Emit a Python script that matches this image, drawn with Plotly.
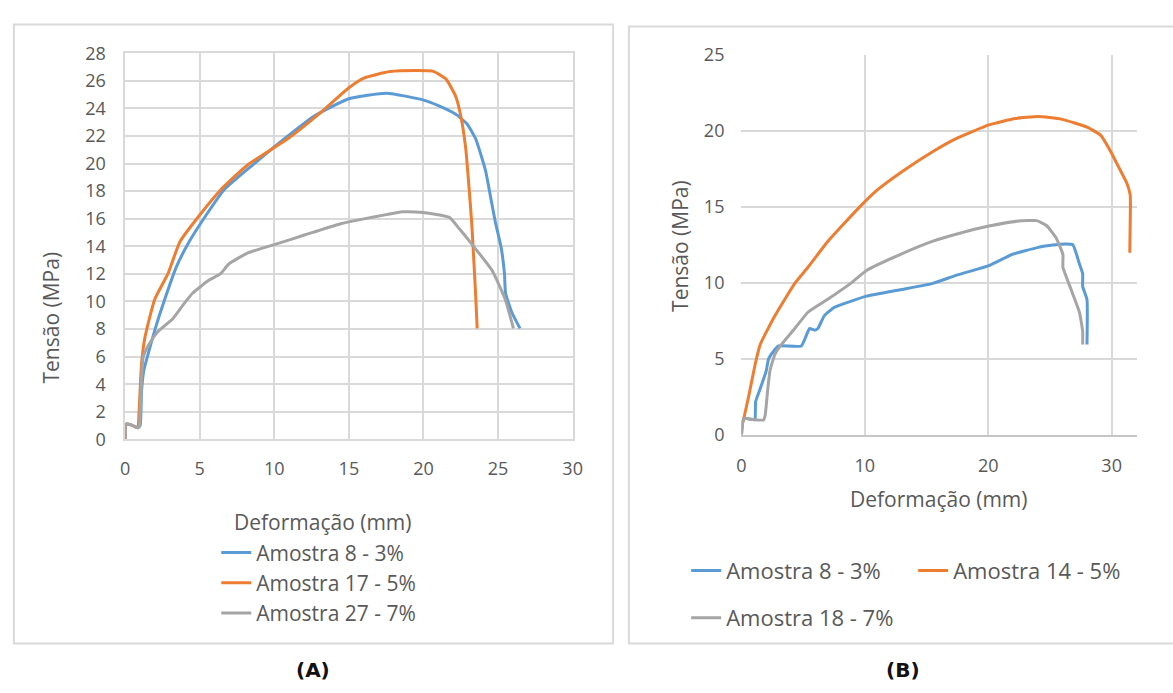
import plotly.graph_objects as go

# ---------------- Panel A data ----------------
a_names = ["Amostra 8 - 3%", "Amostra 17 - 5%", "Amostra 27 - 7%"]
a8_x = [0, 0.05, 0.4, 0.7, 0.85, 1.0, 1.1, 1.25, 1.54, 2.09, 2.65, 3.42, 4.3, 5.4, 6.62, 8.6, 10.7, 12.68,
        15.0, 17.54, 19.96, 21.0, 22.17, 22.9, 23.49, 24.16, 24.49, 24.82, 25.21, 25.43, 25.5, 25.92, 26.47]
a8_y = [0, 1.1, 1.05, 0.9, 0.85, 1.0, 3.5, 5.0, 6.19, 8.29, 10.15, 12.48, 14.35, 16.22, 18.09, 19.95, 21.82, 23.45,
        24.7, 25.1, 24.62, 24.2, 23.57, 22.9, 21.82, 19.49, 17.62, 15.75, 13.89, 12.02, 10.62, 9.22, 8.05]
a17_x = [0, 0.05, 0.4, 0.7, 0.85, 0.9, 1.1, 1.32, 1.98, 2.87, 3.68, 4.96, 6.4, 8.27, 10.92, 13.34, 15.0, 16.0,
         17.76, 19.52, 20.62, 21.5, 22.17, 22.5, 22.83, 23.05, 23.23, 23.34, 23.49, 23.6]
a17_y = [0, 1.1, 1.05, 0.9, 0.85, 1.3, 5.49, 7.35, 10.15, 12.02, 14.35, 16.22, 18.09, 19.95, 21.82, 23.92, 25.5, 26.2,
         26.67, 26.75, 26.7, 26.14, 24.85, 23.45, 21.12, 18.32, 15.75, 13.65, 10.62, 8.05]
a27_x = [0, 0.05, 0.4, 0.7, 0.85, 0.95, 1.05, 1.21, 1.6, 2.2, 3.2, 3.85, 4.52, 5.63, 6.4, 6.95, 8.27, 10.0, 12.02,
         14.45, 16.0, 17.5, 18.6, 19.96, 21.73, 22.39, 23.27, 24.6, 25.48, 26.03]
a27_y = [0, 1.1, 1.05, 0.9, 0.85, 1.0, 3.0, 5.96, 6.9, 7.82, 8.75, 9.7, 10.6, 11.55, 12.02, 12.72, 13.54, 14.12, 14.82,
         15.64, 15.99, 16.3, 16.5, 16.45, 16.1, 15.29, 14.12, 12.25, 10.15, 8.05]

# ---------------- Panel B data ----------------
b_names = ["Amostra 8 - 3%", "Amostra 14 - 5%", "Amostra 18 - 7%"]
b8_x = [0, 0.19, 1.0, 1.1, 1.15, 1.5, 2.0, 2.2, 2.6, 3.0, 4.85, 5.52, 5.92, 6.19, 6.72, 7.52, 10.13, 12.85, 15.52,
        17.39, 20.05, 21.92, 24.05, 25.79, 26.85, 27.39, 27.65, 27.65, 28.0, 28.0]
b8_y = [0, 1.08, 1.0, 1.0, 2.2, 3.0, 4.2, 5.0, 5.5, 5.85, 5.85, 7.0, 6.89, 7.0, 7.85, 8.39, 9.13, 9.55, 9.97,
        10.5, 11.14, 11.87, 12.34, 12.55, 12.51, 11.24, 10.6, 9.76, 8.9, 5.95]
b14_x = [0.1, 0.19, 0.59, 1.12, 1.52, 2.72, 4.32, 5.39, 6.99, 9.39, 10.99, 13.12, 15.52, 17.39, 20.05, 22.19, 24.05,
         25.92, 28.05, 29.12, 29.92, 30.72, 31.25, 31.5, 31.52, 31.47]
b14_y = [0.8, 1.08, 2.56, 4.68, 5.95, 7.85, 9.97, 11.03, 12.72, 14.84, 16.1, 17.38, 18.65, 19.5, 20.4, 20.82, 20.95,
         20.78, 20.24, 19.71, 18.65, 17.38, 16.53, 15.8, 15.05, 11.98]
b18_x = [0, 0.19, 1.0, 1.79, 1.92, 2.13, 2.32, 2.72, 3.25, 4.32, 5.39, 6.99, 8.85, 10.13, 12.85, 15.52, 17.39, 20.05,
         22.45, 23.92, 24.72, 25.52, 26.05, 26.05, 26.72, 27.39, 27.65, 27.65]
b18_y = [0, 1.08, 1.0, 0.98, 1.29, 2.99, 4.26, 5.32, 5.95, 7.0, 8.07, 8.92, 9.97, 10.82, 11.87, 12.75, 13.2, 13.74,
         14.07, 14.1, 13.78, 12.93, 11.87, 11.03, 9.55, 8.07, 6.8, 5.95]

colors = ["#5B9BD5", "#ED7D31", "#A5A5A5"]

W, H = 1173, 693
def px(x):
    return x / W
def py(y):
    return 1 - y / H

FONT = "Open Sans"
TXT = "#595959"
GRID = "#d9d9d9"

fig = go.Figure()

for name, xs, ys, c in zip(a_names, [a8_x, a17_x, a27_x], [a8_y, a17_y, a27_y], colors):
    fig.add_trace(go.Scatter(x=xs, y=ys, mode="lines", name=name,
                             line=dict(color=c, width=3, shape="spline", smoothing=0.5),
                             xaxis="x", yaxis="y", legend="legend"))

b_legends = ["legend2", "legend2", "legend3"]
for name, xs, ys, c, lg in zip(b_names, [b8_x, b14_x, b18_x], [b8_y, b14_y, b18_y], colors, b_legends):
    fig.add_trace(go.Scatter(x=xs, y=ys, mode="lines", name=name,
                             line=dict(color=c, width=3, shape="spline", smoothing=0.4),
                             xaxis="x2", yaxis="y2", legend=lg))

tickfont = dict(family=FONT, size=18, color=TXT)
legfont_a = dict(family=FONT, size=21, color=TXT)
legfont_b = dict(family=FONT, size=22, color=TXT)

fig.update_layout(
    width=W, height=H, margin=dict(l=0, r=0, t=0, b=0),
    paper_bgcolor="white", plot_bgcolor="white",
    font=dict(family=FONT, color=TXT),
    xaxis=dict(domain=[px(121.7), px(575)], range=[0, 30], dtick=5, tick0=0,
               showgrid=True, gridcolor=GRID, gridwidth=1.5, zeroline=False,
               showline=True, linecolor=GRID, linewidth=1.5, mirror=True,
               tickfont=tickfont, ticks="", ticklabelstandoff=12, fixedrange=True),
    yaxis=dict(domain=[py(441.7), py(41.7)], range=[0, 28], dtick=2, tick0=0,
               showgrid=True, gridcolor=GRID, gridwidth=1.5, zeroline=False,
               showline=True, linecolor=GRID, linewidth=1.5, mirror=True,
               tickfont=tickfont, ticks="", ticklabelstandoff=14, fixedrange=True),
    xaxis2=dict(domain=[px(746), px(1147)], range=[0, 32.08], dtick=10, tick0=0, anchor="y2",
                showgrid=True, gridcolor=GRID, gridwidth=1.5, zeroline=False,
                showline=True, linecolor="#c6c6c6", linewidth=1.5, mirror=False,
                tickfont=tickfont, ticks="", ticklabelstandoff=14, fixedrange=True),
    yaxis2=dict(domain=[py(437), py(43.5)], range=[0, 25], dtick=5, tick0=0, anchor="x2",
                showgrid=True, gridcolor=GRID, gridwidth=1.5, zeroline=False,
                showline=False, tickfont=tickfont, ticks="", ticklabelstandoff=16, fixedrange=True),
    legend=dict(x=px(214), y=py(538), xanchor="left", yanchor="top", orientation="v",
                font=legfont_a, bgcolor="rgba(0,0,0,0)", borderwidth=0, tracegroupgap=0),
    legend2=dict(x=px(690), y=py(556), xanchor="left", yanchor="top", orientation="h",
                 font=legfont_b, bgcolor="rgba(0,0,0,0)", borderwidth=0, entrywidth=182, entrywidthmode="pixels"),
    legend3=dict(x=px(690), y=py(605), xanchor="left", yanchor="top", orientation="h",
                 font=legfont_b, bgcolor="rgba(0,0,0,0)", borderwidth=0),
    showlegend=True,
)

annotations = [
    dict(text="Tensão (MPa)", x=px(47), y=py(315), textangle=-90, font=dict(family=FONT, size=21, color=TXT)),
    dict(text="Deformação (mm)", x=px(321.7), y=py(527), font=dict(family=FONT, size=21, color=TXT)),
    dict(text="Tensão (MPa)", x=px(683), y=py(241), textangle=-90, font=dict(family=FONT, size=21, color=TXT)),
    dict(text="Deformação (mm)", x=px(946), y=py(503), font=dict(family=FONT, size=21, color=TXT)),
    dict(text="<b>(A)</b>", x=px(312), y=py(681), font=dict(family="DejaVu Sans", size=20, color="#111111")),
    dict(text="<b>(B)</b>", x=px(910), y=py(681), font=dict(family="DejaVu Sans", size=20, color="#111111")),
]
for a in annotations:
    a.update(xref="paper", yref="paper", showarrow=False, xanchor="center", yanchor="middle")
fig.update_layout(annotations=annotations)

fig.add_shape(type="rect", xref="paper", yref="paper", x0=px(9), x1=px(616), y0=py(653), y1=py(12),
              line=dict(color=GRID, width=2), fillcolor="rgba(0,0,0,0)", layer="below")
fig.add_shape(type="rect", xref="paper", yref="paper", x0=px(632), x1=px(1190), y0=py(653), y1=py(14),
              line=dict(color=GRID, width=2), fillcolor="rgba(0,0,0,0)", layer="below")

fig.write_html("out.html")
